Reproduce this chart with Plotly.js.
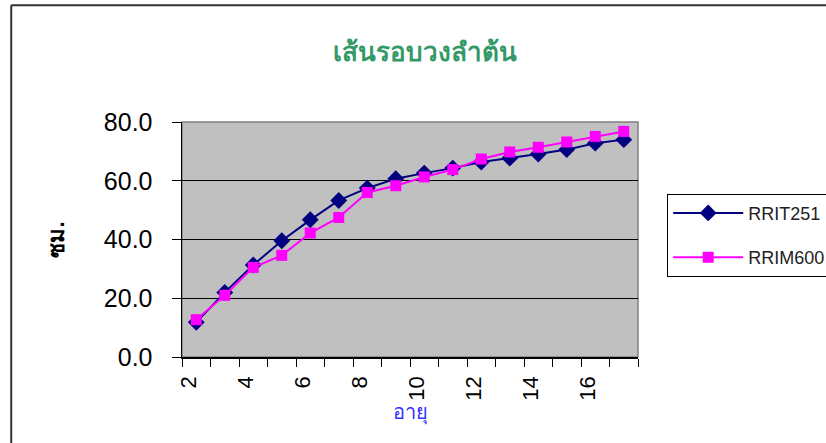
<!DOCTYPE html>
<html>
<head>
<meta charset="utf-8">
<script src="https://cdn.plot.ly/plotly-3.0.1.min.js"></script>
<style>
html,body{margin:0;padding:0;background:#fff;}
#chart{width:826px;height:443px;}
</style>
</head>
<body>
<div id="chart"></div>
<script>
// ---- data ----
const ages = [2, 3, 4, 5, 6, 7, 8, 9, 10, 11, 12, 13, 14, 15, 16, 17];
const rrit251 = [11.8, 22.0, 31.3, 39.6, 46.7, 53.3, 57.5, 60.7, 62.6, 64.3, 66.4, 67.7, 69.1, 70.6, 72.8, 74.0];
const rrim600 = [12.7, 21.0, 30.5, 34.6, 42.2, 47.5, 56.0, 58.3, 61.3, 63.8, 67.4, 69.8, 71.4, 73.2, 75.1, 76.8];
const xTickLabels = [2, 4, 6, 8, 10, 12, 14, 16];
const yTickValues = [0, 20, 40, 60, 80];
const seriesNames = ['RRIT251', 'RRIM600'];
const chartTitle = 'เส้นรอบวงลำต้น';
const xTitle = 'อายุ';
const yTitle = 'ซม.';

const FONT = 'Arial, "Liberation Sans", sans-serif';

const traces = [
  {
    x: ages, y: rrit251, name: seriesNames[0], type: 'scatter', mode: 'lines+markers',
    legendgroup: 'a',
    line: {color: '#000080', width: 2},
    marker: {symbol: 'diamond', size: 13, color: '#000080'}
  },
  {
    x: ages, y: rrim600, name: seriesNames[1], type: 'scatter', mode: 'lines+markers',
    legendgroup: 'b',
    line: {color: '#ff00ff', width: 2},
    marker: {symbol: 'square', size: 11, color: '#ff00ff'}
  }
];

const boundaries = [];
for (let i = 0; i <= ages.length; i++) boundaries.push(ages[0] - 0.5 + i);

const layout = {
  width: 826, height: 443,
  margin: {l: 182, r: 188, t: 122, b: 86, autoexpand: false},
  paper_bgcolor: '#ffffff',
  plot_bgcolor: '#c0c0c0',
  font: {family: FONT, color: '#000'},
  showlegend: true,
  title: {
    text: '<b>' + chartTitle + '</b>',
    font: {size: 26, color: '#339966', family: FONT},
    xref: 'paper', x: 0.532, xanchor: 'center',
    yref: 'container', y: 0.883, yanchor: 'middle'
  },
  xaxis: {
    type: 'linear',
    range: [ages[0] - 0.5, ages[ages.length - 1] + 0.5],
    tickmode: 'array', tickvals: xTickLabels, ticktext: xTickLabels.map(String),
    ticks: '', tickangle: -90,
    ticklabelstandoff: 9,
    ticklabelshift: -7,
    tickfont: {size: 22, family: FONT, color: '#000'},
    showgrid: false, zeroline: false,
    showline: true, linecolor: '#000', linewidth: 1.5,
    minor: {tickmode: 'array', tickvals: boundaries, ticks: 'outside', ticklen: 8, tickcolor: '#000', tickwidth: 1, showgrid: false},
    title: {text: xTitle, font: {size: 20, color: '#3333ff', family: FONT}, standoff: 4},
    fixedrange: true
  },
  yaxis: {
    range: [0, 80],
    tickmode: 'array', tickvals: yTickValues,
    tickformat: '.1f',
    ticks: 'outside', ticklen: 9, tickcolor: '#000', tickwidth: 1,
    ticklabelstandoff: 14,
    tickfont: {size: 25, family: FONT, color: '#000'},
    showgrid: true, gridcolor: '#000', gridwidth: 1,
    zeroline: false,
    showline: true, linecolor: '#000', linewidth: 1.5,
    title: {text: '<b>' + yTitle + '</b>', font: {size: 22, color: '#000', family: FONT}, standoff: 33},
    fixedrange: true
  },
  legend: {
    x: 1.064, xanchor: 'left', y: 0.695, yanchor: 'top',
    bgcolor: '#ffffff', bordercolor: '#000', borderwidth: 1,
    font: {size: 18, family: FONT, color: '#222'},
    tracegroupgap: 18, itemwidth: 70
  },
  shapes: [
    {type: 'rect', xref: 'paper', yref: 'paper', x0: 0, x1: 1, y0: 0, y1: 1,
     line: {color: '#808080', width: 1.5}, layer: 'below'},
    {type: 'line', xref: 'paper', yref: 'paper', x0: -0.3745, x1: -0.3745, y0: -0.5, y1: 1.497,
     line: {color: '#333', width: 2}},
    {type: 'line', xref: 'paper', yref: 'paper', x0: -0.3745, x1: 1.6, y0: 1.497, y1: 1.497,
     line: {color: '#333', width: 2}}
  ]
};

Plotly.newPlot('chart', traces, layout, {displayModeBar: false, staticPlot: true});
</script>
</body>
</html>
